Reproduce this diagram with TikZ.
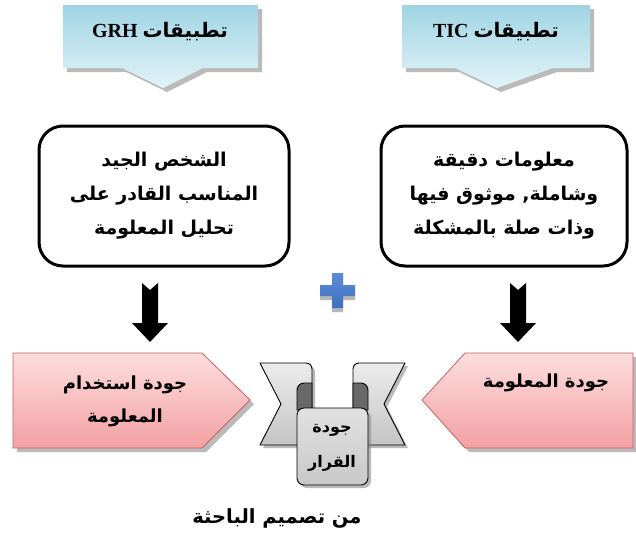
\documentclass[tikz,border=0pt]{standalone}
\usepackage{fontspec}
\setmainfont{Liberation Serif}
\newfontfamily\arabicfont[Script=Arabic]{DejaVu Sans}
\TeXXeTstate=1
\usetikzlibrary{shadows}

\definecolor{calltop}{RGB}{160,212,228}
\definecolor{callbot}{RGB}{226,243,248}
\definecolor{pinktop}{RGB}{253,222,222}
\definecolor{pinkbot}{RGB}{243,160,162}
\definecolor{pinkline}{RGB}{205,95,95}
\definecolor{plusblue}{RGB}{62,112,192}
\definecolor{plustop}{RGB}{90,140,214}
\definecolor{wingtop}{RGB}{236,236,236}
\definecolor{wingbot}{RGB}{196,196,196}
\definecolor{paneltop}{RGB}{225,225,225}
\definecolor{panelbot}{RGB}{200,200,200}
\definecolor{folddark}{RGB}{105,105,105}

\tikzset{
  shadowed/.style={drop shadow={shadow xshift=4pt, shadow yshift=-4pt, fill=black!45, opacity=0.6}},
  callout/.style={top color=calltop, bottom color=callbot, draw=none, shadowed},
  calltext/.style={font=\bfseries\fontsize{20}{24}\selectfont, inner sep=0pt},
  infobox/.style={draw=black, line width=3pt, rounded corners=24pt, fill=white,
    align=center, font=\arabicfont\bfseries\fontsize{19}{34}\selectfont},
  blockarrow/.style={fill=black, draw=none},
  pentagon/.style={top color=pinktop, bottom color=pinkbot, draw=pinkline, line width=0.8pt, shadowed},
  pentatext/.style={align=center, font=\arabicfont\bfseries\fontsize{18}{33}\selectfont, inner sep=0pt},
  wing/.style={top color=wingtop, bottom color=wingbot, draw=black, line width=0.9pt, line join=round,
    drop shadow={shadow xshift=3pt, shadow yshift=-3pt, fill=black!45, opacity=0.6}},
  panel/.style={wing, top color=paneltop, bottom color=panelbot},
  fold/.style={fill=folddark, draw=black, line width=0.9pt, line join=round},
  scrolltext/.style={align=center, font=\arabicfont\bfseries\fontsize{16}{35}\selectfont, inner sep=0pt},
}

\begin{document}
\begin{tikzpicture}[x=1pt, y=-1pt]
  \useasboundingbox (0,0) rectangle (636,544);

  % header callouts
  \path[callout] (63,5) -- (258,5) -- (258,68) -- (203,68) -- (163,88) -- (122,68) -- (63,68) -- cycle;
  \path[callout] (402,5) -- (590,5) -- (590,68) -- (553,68) -- (497,88) -- (455,68) -- (402,68) -- cycle;
  \node[calltext] (grh) at (160,32) {\beginR{\arabicfont تطبيقات} GRH\endR};
  \node[calltext] (tic) at (496,32) {\beginR{\arabicfont تطبيقات} TIC\endR};

  % description boxes
  \node[infobox, minimum width=250pt, minimum height=140pt] (boxL) at (164,196)
    {\beginR الشخص الجيد\endR\\\beginR المناسب القادر على\endR\\\beginR تحليل المعلومة\endR};
  \node[infobox, minimum width=246pt, minimum height=140pt] (boxR) at (504,196)
    {\beginR معلومات دقيقة\endR\\\beginR وشاملة, موثوق فيها\endR\\\beginR وذات صلة بالمشكلة\endR};

  % block arrows below the boxes
  \coordinate (aL) at (150,283);
  \coordinate (aR) at (518,283);
  \foreach \c in {aL,aR}{
    \fill[blockarrow] (\c) ++(-8,0) -- ++(8,7) -- ++(8,-7) -- ++(0,40) -- ++(10,0)
      -- ++(-18,19) -- ++(-18,-19) -- ++(10,0) -- cycle;
  }

  % plus sign
  \path[top color=plustop, bottom color=plusblue, draw=none,
        drop shadow={shadow xshift=0pt, shadow yshift=-4pt, fill=black!40, opacity=0.7}]
    (332,273) -- (343,273) -- (343,285) -- (355,285) -- (355,296) -- (343,296) -- (343,308)
    -- (332,308) -- (332,296) -- (320,296) -- (320,285) -- (332,285) -- cycle;

  % quality pentagons
  \path[pentagon] (13,353) -- (202,353) -- (250,400) -- (202,448) -- (13,448) -- cycle;
  \path[pentagon] (422,400) -- (465,353) -- (633,353) -- (633,448) -- (465,448) -- cycle;
  \node[pentatext] (useq) at (125,401) {\beginR جودة استخدام\endR\\\beginR المعلومة\endR};
  \node[pentatext] (infq) at (546,383) {\beginR جودة المعلومة\endR};

  % decision ribbon
  \path[wing] (260,363) -- (306,363) to[out=0,in=90] (312,369) -- (312,445) -- (260,445) -- (281,404) -- cycle;
  \path[wing] (405,363) -- (359,363) to[out=180,in=90] (353,369) -- (353,445) -- (405,445) -- (384,404) -- cycle;
  \path[fold] (297,410) -- (297,390) to[out=90,in=180] (304,383) -- (312,383) -- (312,410) -- cycle;
  \path[fold] (368,410) -- (368,390) to[out=90,in=0] (361,383) -- (353,383) -- (353,410) -- cycle;
  \path[panel, rounded corners=7pt] (297,408) -- (297,485) -- (368,485) -- (368,408) -- cycle;
  \node[scrolltext] (dec) at (332,448) {\beginR جودة\endR\\\beginR القرار\endR};

  % caption
  \node[font=\arabicfont\bfseries\fontsize{19.5}{24}\selectfont, inner sep=0pt] (cap) at (277,518)
    {\beginR من تصميم الباحثة\endR};
\end{tikzpicture}
\end{document}
